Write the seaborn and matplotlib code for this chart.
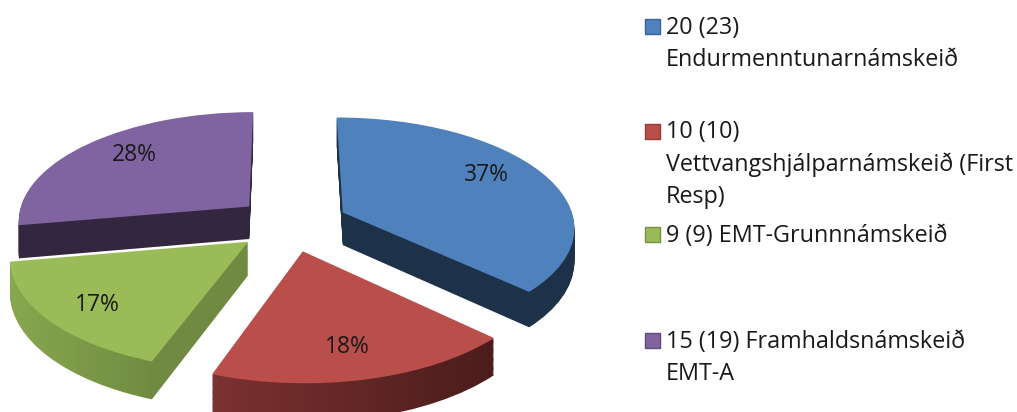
import numpy as np
import matplotlib
matplotlib.use('Agg')
import matplotlib.pyplot as plt
from matplotlib.transforms import Transform
from matplotlib.patches import Rectangle
import seaborn as sns

course_counts = [20, 10, 9, 15]
pct_labels = ['37%', '18%', '17%', '28%']
explode = [0.27, 0.25, 0.22, 0.21]
legend_lines = [
    ['20 (23)', 'Endurmenntunarnámskeið'],
    ['10 (10)', 'Vettvangshjálparnámskeið (First', 'Resp)'],
    ['9 (9) EMT-Grunnnámskeið'],
    ['15 (19) Framhaldsnámskeið', 'EMT-A'],
]
legend_y = [26, 131, 234, 340]
label_xy = [(486, 175), (347, 347), (97, 305), (134, 155)]
nudge = [(0, 0), (3, 0), (2, 2), (0, -3)]
top_colors = ['#4f81bd', '#b94e4b', '#9bbb59', '#8064a2']
edge_colors = ['#3a6596', '#933b39', '#769146', '#60497d']
side_left = ['#1d3249', '#7d3231', '#8aa950', '#33263f']
side_right = ['#1d3249', '#4a1c1b', '#708b41', '#33263f']

CX, CY, RX, RY, TILT, DEPTH = 286, 224, 232, 109, 0.12, 33


class Tilted(Transform):
    # puts the flat unit pie into the picture, z is px of drop below the top face
    input_dims = output_dims = 2
    is_separable = False

    def __init__(self, z=0, shift=(0, 0)):
        super().__init__()
        self.z = z
        self.shift = shift

    def transform_non_affine(self, values):
        values = np.asarray(values, dtype=float)
        w = 1 + TILT * values[:, 1]
        return np.column_stack([CX + self.shift[0] + RX * values[:, 0] / w,
                                CY + self.shift[1] - RY * values[:, 1] / w + self.z / w])


sns.set_theme(style='white')
plt.rcParams['font.family'] = ['Open Sans', 'DejaVu Sans']

fig = plt.figure(figsize=(10.17, 4.12), dpi=100)
ax = fig.add_axes([0, 0, 1, 1])

pie_args = dict(explode=explode, startangle=90, counterclock=False,
                wedgeprops=dict(linewidth=0))

# stack of darker pies for the rim, red and green get a left to right ramp
for z in range(DEPTH, 0, -1):
    wedges, _ = ax.pie(course_counts, colors=side_right, **pie_args)
    for i, w in enumerate(wedges):
        w.set_transform(Tilted(z, nudge[i]) + ax.transData)
        if side_left[i] != side_right[i]:
            w.set_visible(False)
            x0, x1 = (205, 500) if i == 1 else (0, 155)
            cmap = sns.blend_palette([side_left[i], side_right[i]], as_cmap=True)
            ramp = np.clip((np.arange(x0, 520, 2) - x0) / (x1 - x0), 0, 1)
            im = ax.imshow(ramp[None, :], cmap=cmap, aspect='auto', vmin=0, vmax=1,
                           extent=(x0, 520, 412, 0), zorder=1)
            im.set_clip_path(w)

wedges, _ = ax.pie(course_counts, colors=top_colors, **pie_args)
for i, w in enumerate(wedges):
    w.set_zorder(3)
    w.set_transform(Tilted(0, nudge[i]) + ax.transData)

for label, (x, y) in zip(pct_labels, label_xy):
    ax.text(x, y, label, fontsize=16.5, color='#1a1a1a', ha='center', va='center', zorder=4)

for lines, y, color, edge in zip(legend_lines, legend_y, top_colors, edge_colors):
    ax.add_patch(Rectangle((645, y - 7), 15, 15, facecolor=color, edgecolor=edge,
                           linewidth=1, zorder=3))
    for n, line in enumerate(lines):
        ax.text(666, y + 1.5 + n * 32, line, fontsize=16.8, color='#1a1a1a',
                va='center', ha='left')

ax.set_aspect('auto')
ax.set_xlim(0, 1017)
ax.set_ylim(412, 0)
ax.axis('off')
fig.savefig('out.png', dpi=100)
